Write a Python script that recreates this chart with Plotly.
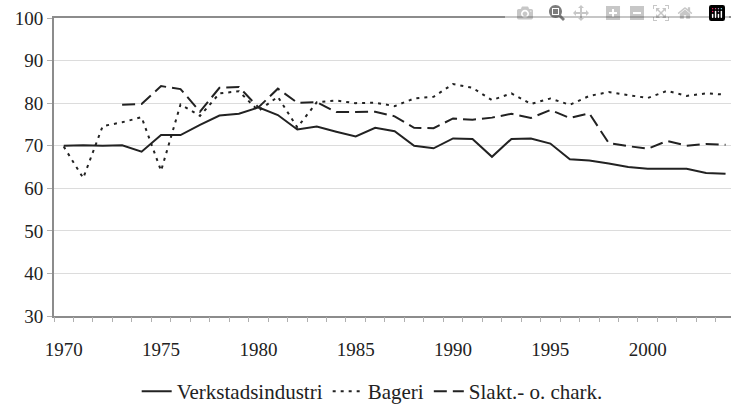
import plotly.graph_objects as go

years = list(range(1970, 2005))

verkstad = [70.0, 70.1, 70.0, 70.1, 68.6, 72.5, 72.5, 74.9, 77.1, 77.5,
            79.0, 77.2, 73.8, 74.5, 73.3, 72.2, 74.2, 73.4, 70.0, 69.4,
            71.7, 71.6, 67.4, 71.6, 71.7, 70.5, 66.8, 66.5, 65.8, 65.0,
            64.6, 64.6, 64.6, 63.6, 63.4]

bageri = [69.8, 62.4, 74.6, 75.5, 76.7, 64.1, 79.7, 77.0, 82.3, 82.8,
          78.2, 81.5, 74.3, 80.2, 80.6, 80.0, 80.1, 79.3, 81.1, 81.5,
          84.5, 83.6, 80.7, 82.3, 79.8, 81.1, 79.6, 81.7, 82.6, 81.9,
          81.2, 82.9, 81.7, 82.3, 82.0]

slakt = [None, None, None, 79.6, 79.8, 84.0, 83.3, 78.0, 83.6, 83.8,
         79.0, 83.4, 80.1, 80.2, 77.9, 77.9, 78.0, 76.9, 74.2, 74.1,
         76.4, 76.1, 76.6, 77.5, 76.5, 78.4, 76.5, 77.6, 70.6, 69.9,
         69.3, 71.1, 70.0, 70.4, 70.2]

names = ["Verkstadsindustri", "Bageri", "Slakt.- o. chark."]
xtick_vals = [1970, 1975, 1980, 1985, 1990, 1995, 2000]
ytick_vals = [30, 40, 50, 60, 70, 80, 90, 100]
year_edges = [y - 0.5 for y in years] + [years[-1] + 0.5]

FONT = "Liberation Serif"
INK = "#222222"
AXIS = "#8c8c8c"
XRANGE = [1969.5, 2004.28]

fig = go.Figure()
fig.add_trace(go.Scatter(x=years, y=verkstad, name=names[0], mode="lines",
                         line=dict(color=INK, width=2, dash="solid")))
fig.add_trace(go.Scatter(x=years, y=bageri, name=names[1], mode="lines",
                         line=dict(color=INK, width=2, dash="3px,5px")))
fig.add_trace(go.Scatter(x=years, y=slakt, name=names[2], mode="lines",
                         line=dict(color=INK, width=2, dash="13px,6px")))
# helper trace so the tick-only overlay axis is drawn
fig.add_trace(go.Scatter(x=[years[0]], y=[None], xaxis="x2", mode="lines",
                         showlegend=False, hoverinfo="skip"))

fig.update_layout(
    width=731, height=412,
    margin=dict(l=54, r=0, t=18, b=92),
    paper_bgcolor="white", plot_bgcolor="white",
    font=dict(family=FONT, size=19, color=INK),
    showlegend=True,
    legend=dict(orientation="h", x=0.47, xanchor="center", y=-0.185, yanchor="top",
                font=dict(family=FONT, size=21, color=INK)),
    xaxis=dict(
        range=XRANGE, tickvals=xtick_vals, ticktext=[str(v) for v in xtick_vals],
        tickfont=dict(family=FONT, size=19, color=INK),
        ticks="outside", ticklen=15, tickcolor="rgba(0,0,0,0)",
        showgrid=False, zeroline=False,
        showline=True, linecolor=AXIS, linewidth=2, mirror=True,
    ),
    xaxis2=dict(
        overlaying="x", anchor="y", side="bottom", range=XRANGE,
        tickvals=year_edges, showticklabels=False,
        ticks="outside", ticklen=5, tickcolor="#b0b0b0", tickwidth=1,
        showgrid=False, zeroline=False, showline=False,
    ),
    yaxis=dict(
        range=[30, 100], tickvals=ytick_vals,
        ticksuffix="\u00a0\u00a0",
        tickfont=dict(family=FONT, size=19, color=INK),
        ticks="outside", ticklen=5, tickcolor="#b0b0b0", tickwidth=1,
        showgrid=True, gridcolor="#dcdcdc", gridwidth=1, zeroline=False,
        showline=True, linecolor=AXIS, linewidth=2,
    ),
)

fig.write_html("out.html", post_script="document.body.style.margin='0';")
